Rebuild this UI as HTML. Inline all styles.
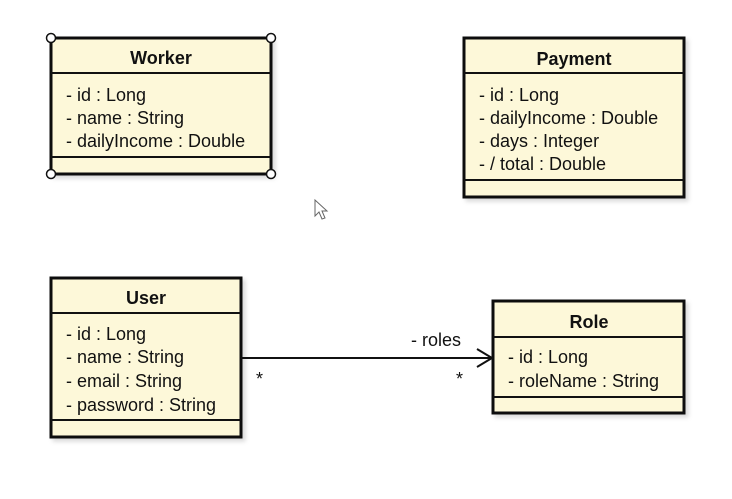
<!DOCTYPE html>
<html><head><meta charset="utf-8"><style>
html,body{margin:0;padding:0;background:#fff;}
svg{display:block;}
text{font-family:"Liberation Sans",Arial,sans-serif;font-size:18px;fill:#111;}
.t{font-weight:bold;text-anchor:middle;}
</style></head><body>
<svg width="732" height="499" viewBox="0 0 732 499" xmlns="http://www.w3.org/2000/svg">
<defs><filter id="s" x="-5%" y="-5%" width="115%" height="115%"><feDropShadow dx="3" dy="3" stdDeviation="2" flood-color="#000" flood-opacity="0.15"/></filter></defs>
<g stroke="#111" stroke-width="3" fill="#fdf8d9">
<rect x="51" y="38" width="220" height="136" filter="url(#s)"/>
<line x1="51" y1="73" x2="271" y2="73" stroke-width="2"/>
<line x1="51" y1="157" x2="271" y2="157" stroke-width="2"/>
<rect x="464" y="38" width="220" height="159" filter="url(#s)"/>
<line x1="464" y1="73" x2="684" y2="73" stroke-width="2"/>
<line x1="464" y1="180" x2="684" y2="180" stroke-width="2"/>
<rect x="51" y="278" width="190" height="159" filter="url(#s)"/>
<line x1="51" y1="313" x2="241" y2="313" stroke-width="2"/>
<line x1="51" y1="420" x2="241" y2="420" stroke-width="2"/>
<rect x="493" y="301" width="191" height="112" filter="url(#s)"/>
<line x1="493" y1="337" x2="684" y2="337" stroke-width="2"/>
<line x1="493" y1="397" x2="684" y2="397" stroke-width="2"/>
</g>
<g fill="#fff" stroke="#111" stroke-width="1.5">
<circle cx="51" cy="38" r="4.5"/><circle cx="271" cy="38" r="4.5"/>
<circle cx="51" cy="174" r="4.5"/><circle cx="271" cy="174" r="4.5"/>
</g>
<line x1="241" y1="358" x2="492" y2="358" stroke="#111" stroke-width="2"/>
<polyline points="477,349 492,358 477,367" fill="none" stroke="#111" stroke-width="2"/>
<polygon points="315,200 315,216 319,212 322,219 325,218 322,211 327,211" fill="#fff" stroke="#666" stroke-width="1"/>

<text class="t" x="161" y="64">Worker</text>
<text x="66" y="101">- id : Long</text>
<text x="66" y="124">- name : String</text>
<text x="66" y="147">- dailyIncome : Double</text>

<text class="t" x="574" y="65">Payment</text>
<text x="479" y="101">- id : Long</text>
<text x="479" y="124">- dailyIncome : Double</text>
<text x="479" y="147">- days : Integer</text>
<text x="479" y="170">- / total : Double</text>

<text class="t" x="146" y="304">User</text>
<text x="66" y="340">- id : Long</text>
<text x="66" y="363">- name : String</text>
<text x="66" y="387">- email : String</text>
<text x="66" y="411">- password : String</text>

<text class="t" x="589" y="328">Role</text>
<text x="508" y="363">- id : Long</text>
<text x="508" y="387">- roleName : String</text>

<text x="411" y="346">- roles</text>
<text x="256" y="385">*</text>
<text x="456" y="385">*</text>
</svg>
</body></html>
